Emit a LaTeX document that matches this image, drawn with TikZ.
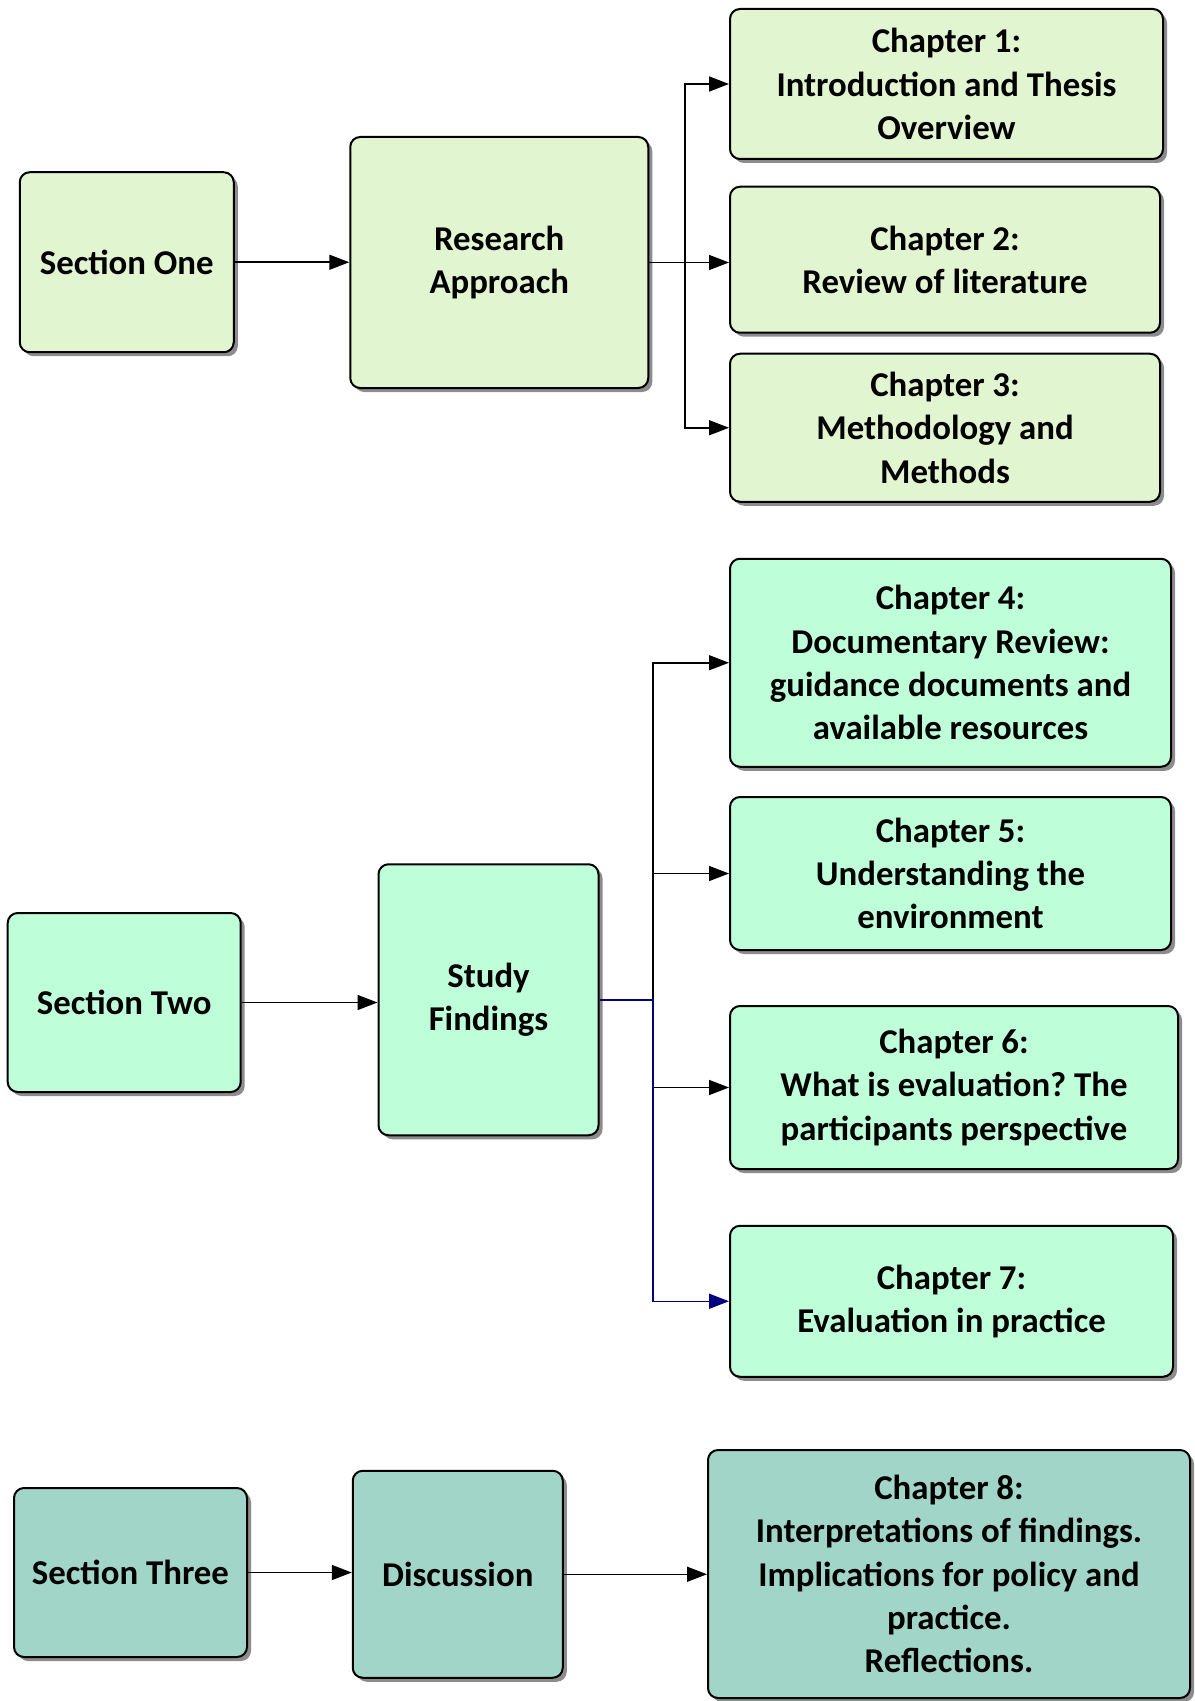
\documentclass[tikz,border=0pt]{standalone}
\usepackage{fontspec}
\setmainfont{Carlito}
\usetikzlibrary{shadows,arrows.meta}
\definecolor{partone}{RGB}{224,245,208}
\definecolor{parttwo}{RGB}{190,255,218}
\definecolor{partthree}{RGB}{161,213,200}
\definecolor{shadowgray}{RGB}{140,140,140}
\definecolor{linknavy}{RGB}{0,0,128}
\frenchspacing
\begin{document}
\begin{tikzpicture}[x=0.5pt, y=-0.5pt,
  box/.style={draw=black, line width=1pt, rounded corners=5pt, align=center, inner sep=2pt,
    font=\fontsize{17.4}{21.7}\selectfont\bfseries,
    drop shadow={shadow xshift=2pt, shadow yshift=-2pt, fill=shadowgray, opacity=1}},
  link/.style={-{Triangle[length=10pt, width=7.5pt]}, line width=0.75pt}]
\useasboundingbox (0,0) rectangle (1194,1701);
\node[box, fill=partone, minimum width=107pt, minimum height=90pt] (sec1) at (126.75,262.25) {Section One};
\node[box, fill=partone, minimum width=149pt, minimum height=125.5pt] (ra) at (499.25,262.5) {Research\\Approach};
\node[box, fill=partone, minimum width=216.5pt, minimum height=75pt] (ch1) at (946.5,84) {Chapter 1:\\Introduction and Thesis\\Overview};
\node[box, fill=partone, minimum width=215pt, minimum height=73pt] (ch2) at (945,259.75) {Chapter 2:\\Review of literature};
\node[box, fill=partone, minimum width=215pt, minimum height=74pt] (ch3) at (945,427.75) {Chapter 3:\\Methodology and\\Methods};
\node[box, fill=parttwo, minimum width=116.5pt, minimum height=89.5pt] (sec2) at (124.2,1002.5) {Section Two};
\node[box, fill=parttwo, minimum width=110pt, minimum height=135.5pt] (sf) at (488.5,999.75) {Study\\Findings};
\node[box, fill=parttwo, minimum width=220.5pt, minimum height=104pt] (ch4) at (950.5,662.75) {Chapter 4:\\Documentary Review:\\guidance documents and\\available resources};
\node[box, fill=parttwo, minimum width=220.5pt, minimum height=76.5pt] (ch5) at (950.5,873.5) {Chapter 5:\\Understanding the\\environment};
\node[box, fill=parttwo, minimum width=224pt, minimum height=81.5pt] (ch6) at (954,1087.5) {Chapter 6:\\What is evaluation? The\\participants perspective};
\node[box, fill=parttwo, minimum width=221.5pt, minimum height=75.5pt] (ch7) at (951.5,1301.25) {Chapter 7:\\Evaluation in practice};
\node[box, fill=partthree, minimum width=116.5pt, minimum height=84.5pt] (sec3) at (130.5,1572.5) {Section Three};
\node[box, fill=partthree, minimum width=105pt, minimum height=103.5pt] (disc) at (457.75,1574.25) {Discussion};
\node[box, fill=partthree, minimum width=241pt, minimum height=124pt] (ch8) at (949,1574) {Chapter 8:\\Interpretations of findings.\\Implications for policy and\\practice.\\Reflections.};
\draw[link] (sec1.east) -- (sec1.east -| ra.west);
\draw[link] (ra.east) -- ++(35.5,0) |- (ch1.west);
\draw[link] (ra.east) -- (ra.east -| ch2.west);
\draw[link] (ra.east) -- ++(35.5,0) |- (ch3.west);
\draw[link] (sec2.east) -- (sec2.east -| sf.west);
\draw[link] (sf.east) -- ++(53.4,0) |- (ch4.west);
\draw[link] (sf.east) -- ++(53.4,0) |- (ch5.west);
\draw[link] (sf.east) -- ++(53.4,0) |- (ch6.west);
\draw[link, draw=linknavy] (sf.east) -- ++(53.4,0) |- (ch7.west);
\draw[link] (sec3.east) -- (sec3.east -| disc.west);
\draw[link] (disc.east) -- (disc.east -| ch8.west);
\end{tikzpicture}
\end{document}
